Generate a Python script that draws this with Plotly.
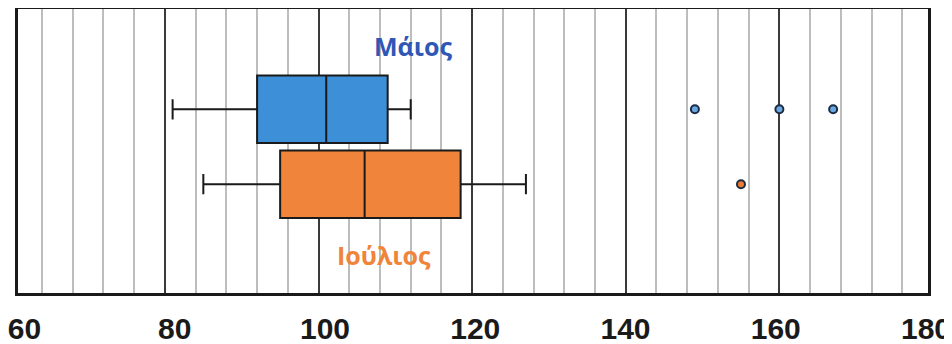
import plotly.graph_objects as go

# ---- data ----
series_names = ["Μάιος", "Ιούλιος"]
series_pos = [1, 0]
lower_fence = [81, 85]
q1_vals = [92, 95]
median_vals = [101, 106]
q3_vals = [109, 118.5]
upper_fence = [112, 127]
outliers_may = [149, 160, 167]
outliers_july = [155]
tick_values = [60, 80, 100, 120, 140, 160, 180]
tick_labels = ["60", "80", "100", "120", "140", "160", "180"]

box_fill = ["#3d8fd8", "#f0843a"]
dot_fill = ["#6aa8e2", "#f07a30"]
text_col = ["#2f57b5", "#f0843a"]

fig = go.Figure()
for i in range(2):
    fig.add_trace(go.Box(
        orientation="h",
        y=[series_pos[i]],
        q1=[q1_vals[i]], median=[median_vals[i]], q3=[q3_vals[i]],
        lowerfence=[lower_fence[i]], upperfence=[upper_fence[i]],
        width=0.9, whiskerwidth=0.3,
        fillcolor=box_fill[i],
        line=dict(color="#1a1a1a", width=2),
        boxpoints=False, hoverinfo="skip", showlegend=False,
    ))

for i, pts in enumerate([outliers_may, outliers_july]):
    fig.add_trace(go.Scatter(
        x=pts, y=[series_pos[i]] * len(pts), mode="markers",
        marker=dict(size=8, color=dot_fill[i], line=dict(color="#1c2c44", width=2)),
        showlegend=False, hoverinfo="skip",
    ))

# invisible trace carrying the tick-label axis
fig.add_trace(go.Scatter(x=tick_values, y=[0] * len(tick_values), xaxis="x2",
                         mode="markers", marker=dict(opacity=0), showlegend=False,
                         hoverinfo="skip"))

fig.add_annotation(x=112.3, y=1.84, text=series_names[0], showarrow=False,
                   font=dict(family="Open Sans", size=25, color=text_col[0], weight="bold"))
fig.add_annotation(x=108.5, y=-0.94, text=series_names[1], showarrow=False,
                   font=dict(family="Open Sans", size=25, color=text_col[1], weight="bold"))

# page body adds an 8px offset, so the figure is sized to fit the remaining window
fig.update_layout(
    width=944, height=336,
    margin=dict(l=10, r=24, t=1, b=51, autoexpand=False),
    plot_bgcolor="white", paper_bgcolor="white",
    xaxis=dict(range=[60.87, 179.35], tick0=0, dtick=20, showgrid=True, automargin=False,
               gridcolor="#3a3a3a", gridwidth=2, showticklabels=False, ticks="",
               zeroline=False, showline=True, mirror=True, linecolor="#1a1a1a", linewidth=2.5,
               minor=dict(dtick=4, tick0=0, showgrid=True, gridcolor="#bdbdbd", gridwidth=1.5)),
    xaxis2=dict(overlaying="x", side="bottom", anchor="y", range=[59.135, 180.266],
                automargin=False, ticklabeloverflow="allow",
                tickmode="array", tickvals=tick_values, ticktext=tick_labels,
                showgrid=False, zeroline=False, showline=False, ticks="",
                ticklabelstandoff=15,
                tickfont=dict(family="Liberation Sans", size=30, color="#1a1a1a", weight="bold")),
    yaxis=dict(range=[-1.453, 2.339], showgrid=False, zeroline=False, showticklabels=False,
               automargin=False,
               showline=True, mirror=True, linecolor="#1a1a1a", linewidth=2.5, ticks=""),
)

fig.write_html("out.html")
